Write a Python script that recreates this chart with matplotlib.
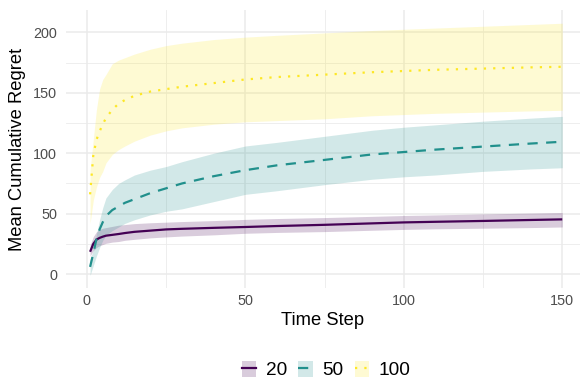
import matplotlib
matplotlib.use("Agg")
import matplotlib.pyplot as plt
from matplotlib.patches import Patch
from matplotlib.lines import Line2D
from matplotlib.legend_handler import HandlerTuple

plt.rcParams['font.family'] = ['Liberation Sans', 'DejaVu Sans']

# Time steps at which values were read
t = [1, 2, 3, 4, 5, 6, 8, 10, 12, 15, 20, 25, 30, 40, 50, 60, 75, 90, 100, 110, 125, 140, 150]

# Series "20"
mean_20 = [18.5, 25, 28.5, 30, 31, 31.8, 32.5, 33.2, 34, 35, 36, 37, 37.5, 38.3, 39, 39.8, 40.8, 42, 42.8, 43.3, 44, 44.8, 45.3]
up_20 = [24, 31, 35, 37, 38, 38.5, 39.5, 40.5, 41, 41.8, 42.5, 43, 43.5, 44.3, 45.3, 46, 46.8, 47.8, 48.5, 49, 49.8, 50.5, 51]
lo_20 = [15, 19.5, 22, 23.5, 24.5, 25.5, 26.5, 27, 28, 28.8, 30, 30.8, 31.5, 32.5, 33.8, 34.5, 35.2, 36.3, 37, 37.5, 38, 38.5, 39]

# Series "50"
mean_50 = [6, 17, 29, 37, 43, 48, 53, 56, 59, 62, 67, 71, 75, 81, 86, 90, 94.5, 99, 101, 103, 105.5, 108, 109.5]
up_50 = [12, 20, 33, 45, 55, 63, 70, 75, 78, 82, 86, 89, 93, 100, 106, 109, 114, 119, 121.5, 123.5, 126.5, 129, 130.5]
lo_50 = [-1, 7, 15, 22, 28, 32, 36, 39, 42, 45, 49, 52, 54, 60, 66, 69, 74, 78.5, 80.5, 82, 85, 87, 88]

# Series "100"
mean_100 = [66, 98, 111, 118, 124, 129, 136, 141, 144, 147.5, 151, 153, 155, 158, 161, 163, 165, 167, 168, 169, 170, 171, 171.5]
up_100 = [86, 111, 136, 153, 161, 165, 174, 177, 179, 182, 186, 189, 191, 194, 196, 197.5, 199.5, 201.5, 202.5, 203.5, 205, 206.5, 207.5]
lo_100 = [42, 61, 72, 80, 85, 92, 99, 103, 106, 110, 115, 118.5, 121, 124, 126, 127, 128.5, 131, 132, 133, 134, 135, 135.5]

labels = ["20", "50", "100"]
colors = ["#440154", "#21908C", "#FDE725"]
series = [(mean_20, lo_20, up_20), (mean_50, lo_50, up_50), (mean_100, lo_100, up_100)]
styles = [dict(linestyle='-'), dict(dashes=(4.6, 3.8)), dict(dashes=(1, 3.2))]

fig = plt.figure(figsize=(5.8, 3.79), dpi=100)
ax = fig.add_axes([66/580, 1 - 288/379, 514/580, 278/379])

lw = 1.6
handles = []
for (m, lo, up), c, st, lab in zip(series, colors, styles, labels):
    ax.fill_between(t, lo, up, color=c, alpha=0.2, linewidth=0)
    ax.plot(t, m, color=c, linewidth=lw, solid_capstyle='butt', dash_capstyle='butt', **st)
    handles.append((Patch(facecolor=c, alpha=0.2, linewidth=0),
                    Line2D([0], [0], color=c, linewidth=lw, dash_capstyle='butt', **st)))

ax.set_xlim(-6.6, 155.6)
ax.set_ylim(-11.45, 218.45)
ax.set_xticks([0, 50, 100, 150])
ax.set_yticks([0, 50, 100, 150, 200])
ax.set_xticks([25, 75, 125], minor=True)
ax.set_yticks([25, 75, 125, 175], minor=True)
ax.grid(which='major', color='#EBEBEB', linewidth=1.1)
ax.grid(which='minor', color='#EBEBEB', linewidth=0.6)
ax.set_axisbelow(True)
for s in ax.spines.values():
    s.set_visible(False)
ax.tick_params(which='both', length=0)
ax.tick_params(axis='y', labelsize=10.4, labelcolor='#4D4D4D', pad=6.3)
ax.tick_params(axis='x', labelsize=10.4, labelcolor='#4D4D4D', pad=4)
ax.set_xlabel("Time Step", fontsize=13.2, labelpad=3)
ax.set_ylabel("Mean Cumulative Regret", fontsize=13.2, labelpad=5)

fig.legend(handles=handles, labels=labels, loc='center', bbox_to_anchor=(326/580, 1 - 370/379),
           ncol=3, frameon=False, fontsize=13.7, handlelength=0.75, handleheight=0.9,
           handletextpad=0.5, columnspacing=0.6, borderpad=0,
           handler_map={tuple: HandlerTuple(ndivide=1, pad=0)})

fig.savefig("out.png", dpi=100)
